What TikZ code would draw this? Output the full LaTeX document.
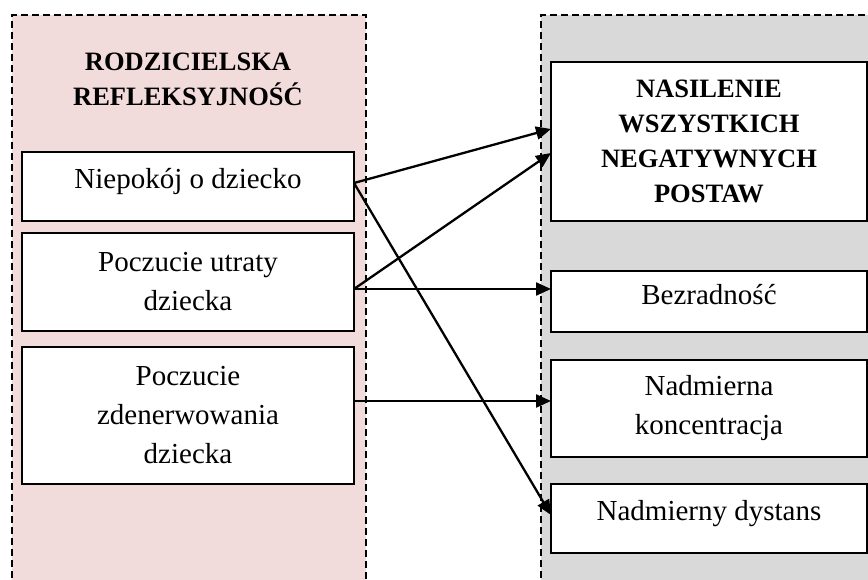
\documentclass[tikz,border=0pt]{standalone}
\usepackage{fontspec}
\setmainfont{Liberation Serif}
\usetikzlibrary{arrows.meta}
\definecolor{panelpink}{HTML}{F2DCDB}
\definecolor{panelgray}{HTML}{D9D9D9}
\begin{document}
\begin{tikzpicture}[x=1pt,y=-1pt,
  panel/.style={draw=black, line width=1.6pt, dash pattern=on 7pt off 4pt},
  box/.style={draw=black, fill=white, line width=2pt, inner sep=0pt, outer sep=0pt,
    align=center, font=\fontsize{29}{39}\selectfont},
  headtext/.style={align=center, font=\fontsize{26.5}{35}\selectfont\bfseries},
  link/.style={line width=2.3pt, -{Triangle[length=15pt,width=13pt]}}]
\useasboundingbox (0,0) rectangle (868,579);
\clip (0,0) rectangle (868,579);

% background panels
\fill[panelpink] (12,15) rectangle (366,600);
\fill[panelgray] (541,15) rectangle (900,600);
\draw[panel] (12,600) -- (12,15) -- (366,15) -- (366,600);
\draw[panel] (541,600) -- (541,15) -- (900,15);

% left column
\node[headtext] (lhead) at (188,79) {RODZICIELSKA\\REFLEKSYJNOŚĆ};
\node[box, minimum width=332pt, minimum height=69pt, text depth=17pt] (b1) at (188,186.5) {Niepokój o dziecko};
\node[box, minimum width=332pt, minimum height=98pt] (b2) at (188,282) {Poczucie utraty\\dziecka};
\node[box, minimum width=332pt, minimum height=137pt] (b3) at (188,415.5) {Poczucie\\zdenerwowania\\dziecka};

% right column
\node[box, minimum width=316pt, minimum height=159pt,
      font=\fontsize{26.5}{35}\selectfont\bfseries] (r1) at (709,141.5)
      {NASILENIE\\WSZYSTKICH\\NEGATYWNYCH\\POSTAW};
\node[box, minimum width=316pt, minimum height=61pt, text depth=14pt] (r2) at (709,301.5) {Bezradność};
\node[box, minimum width=316pt, minimum height=97pt] (r3) at (709,408.5) {Nadmierna\\koncentracja};
\node[box, minimum width=316pt, minimum height=69pt, text depth=17pt] (r4) at (709,518.5) {Nadmierny dystans};

% connector start points on the right edges of the left boxes
\coordinate (s1) at ([yshift=3.5pt]b1.east);
\coordinate (s2) at ([yshift=-7pt]b2.east);
\coordinate (s3) at ([yshift=14.5pt]b3.east);

% connectors
\draw[link] (s1) -- ([yshift=12.5pt]r1.west);
\draw[link] (s1) -- ([yshift=3.5pt]r4.west);
\draw[link] (s2) -- ([yshift=-11.5pt]r1.west);
\draw[link] (s2) -- (r2.west |- s2);
\draw[link] (s3) -- (r3.west |- s3);
\end{tikzpicture}
\end{document}
